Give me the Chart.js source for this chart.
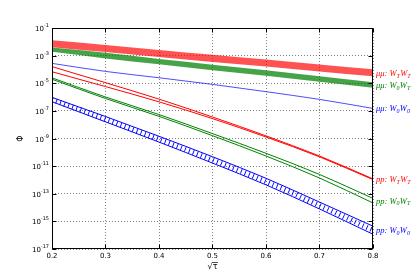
<!DOCTYPE html>
<html>
<head>
<meta charset="utf-8">
<script src="https://cdn.jsdelivr.net/npm/chart.js@4/dist/chart.umd.min.js"></script>
<style>
  body { margin: 0; background: #fff; }
  canvas { display: block; }
</style>
</head>
<body>
<canvas id="chart" width="415" height="277" style="width:415px;height:277px"></canvas>
<script>
// sqrt(tau) sample points
const sqrtTau = [0.2, 0.3, 0.4, 0.5, 0.6, 0.7, 0.8];

// mu mu channels (bands are upper / lower edge)
const muTTHi = [1.3e-2, 6.0e-3, 2.6e-3, 1.17e-3, 5.2e-4, 2.3e-4, 1.02e-4];
const muTTLo = [4.0e-3, 1.8e-3, 7.9e-4, 3.5e-4, 1.6e-4, 7.1e-5, 3.2e-5];
const mu0THi = [3.8e-3, 1.6e-3, 5.6e-4, 2.2e-4, 8.9e-5, 3.2e-5, 1.17e-5];
const mu0TLo = [1.9e-3, 6.3e-4, 2.4e-4, 8.9e-5, 3.5e-5, 1.3e-5, 4.7e-6];
const mu00 = [2.75e-4, 7.2e-5, 2.5e-5, 8.3e-6, 2.45e-6, 6.8e-7, 1.5e-7];

// p p channels
const ppTTHi = [1.6e-4, 1.1e-5, 7.1e-7, 3.6e-8, 1.55e-9, 5.4e-11, 1.19e-12];
const ppTTLo = [6.8e-5, 5.75e-6, 4.5e-7, 2.75e-8, 1.29e-9, 4.7e-11, 1.06e-12];
const pp0THi = [2.45e-5, 1.01e-6, 5.4e-8, 2.26e-9, 8.5e-11, 2.5e-12, 4.6e-14];
const pp0TLo = [1.95e-5, 7.85e-7, 4.0e-8, 1.6e-9, 5.4e-11, 1.38e-12, 2.15e-14];
const pp00Hi = [9.5e-7, 3.9e-8, 1.45e-9, 4.8e-11, 1.32e-12, 2.5e-14, 4.5e-16];
const pp00Lo = [4.6e-7, 1.6e-8, 5.5e-10, 1.66e-11, 4.4e-13, 7.9e-15, 1.17e-16];

// y tick exponents and x ticks
const yExponents = [-17, -15, -13, -11, -9, -7, -5, -3, -1];
const xTicks = [0.2, 0.3, 0.4, 0.5, 0.6, 0.7, 0.8];

// right-hand labels: [prefix, subscripts, colour, upper array, lower array]
const labels = [
  ["μμ: ", ["T", "T"], "#ff0000", muTTHi, muTTLo],
  ["μμ: ", ["0", "T"], "#008000", mu0THi, mu0TLo],
  ["μμ: ", ["0", "0"], "#0000ff", mu00, mu00],
  ["pp: ", ["T", "T"], "#ff0000", ppTTHi, ppTTLo],
  ["pp: ", ["0", "T"], "#008000", pp0THi, pp0TLo],
  ["pp: ", ["0", "0"], "#0000ff", pp00Hi, pp00Lo],
];

const pts = arr => sqrtTau.map((x, i) => ({ x: x, y: arr[i] }));
const pp00Mid = pp00Hi.map((v, i) => Math.sqrt(v * pp00Lo[i]));

const redA = "rgba(255,0,0,0.68)";
const greenA = "rgba(0,128,0,0.72)";
const blueA = "rgba(0,0,255,0.7)";

function line(arr, color, width, extra) {
  return Object.assign({
    data: pts(arr),
    borderColor: color,
    borderWidth: width,
    pointRadius: 0,
    fill: false,
    cubicInterpolationMode: "monotone",
  }, extra || {});
}

const decor = {
  id: "decor",
  afterDraw(chart) {
    const { ctx, chartArea: a, scales } = chart;
    const xs = scales.x, ys = scales.y;
    const L = Math.round(a.left) + 0.5, R = Math.round(a.right) - 0.5;
    const T = Math.round(a.top) + 0.5, B = Math.round(a.bottom) - 0.5;
    ctx.save();
    ctx.strokeStyle = "#000";
    ctx.lineWidth = 1;
    ctx.strokeRect(L, T, R - L, B - T);

    // inward ticks + y labels
    ctx.fillStyle = "#000";
    yExponents.forEach(e => {
      const yy = Math.round(ys.getPixelForValue(Math.pow(10, e))) + 0.5;
      ctx.beginPath();
      ctx.moveTo(L, yy); ctx.lineTo(L + 4, yy);
      ctx.moveTo(R, yy); ctx.lineTo(R - 4, yy);
      ctx.stroke();
      ctx.textAlign = "right";
      ctx.textBaseline = "alphabetic";
      ctx.font = "5px 'DejaVu Sans'";
      const sup = String(e);
      const sw = ctx.measureText(sup).width;
      ctx.fillText(sup, 49, yy - 2);
      ctx.font = "7px 'DejaVu Sans'";
      ctx.fillText("10", 49 - sw, yy + 2.5);
    });
    xTicks.forEach(v => {
      const xx = Math.round(xs.getPixelForValue(v)) + 0.5;
      ctx.beginPath();
      ctx.moveTo(xx, B); ctx.lineTo(xx, B - 4);
      ctx.moveTo(xx, T); ctx.lineTo(xx, T + 4);
      ctx.stroke();
    });

    // axis titles
    const cx = (a.left + a.right) / 2;
    ctx.textAlign = "center";
    ctx.textBaseline = "middle";
    ctx.font = "8px 'DejaVu Sans'";
    ctx.fillText("√τ", cx, 267);
    const w = ctx.measureText("√τ").width, ws = ctx.measureText("√").width;
    ctx.lineWidth = 0.7;
    ctx.beginPath();
    ctx.moveTo(cx - w / 2 + ws - 0.5, 262.5);
    ctx.lineTo(cx + w / 2 + 0.5, 262.5);
    ctx.stroke();
    ctx.save();
    ctx.translate(21, (a.top + a.bottom) / 2);
    ctx.rotate(-Math.PI / 2);
    ctx.fillText("Φ", 0, 0);
    ctx.restore();

    // curve labels on the right
    const last = sqrtTau.length - 1;
    labels.forEach(([pre, subs, color, hi, lo]) => {
      const yy = ys.getPixelForValue(Math.sqrt(hi[last] * lo[last])) + 3;
      let x = a.right + 3;
      ctx.fillStyle = color;
      ctx.textAlign = "left";
      ctx.textBaseline = "alphabetic";
      ctx.font = "italic 8.5px 'Liberation Serif'";
      ctx.fillText(pre, x, yy);
      x += ctx.measureText(pre).width;
      subs.forEach(s => {
        ctx.font = "italic 8.5px 'Liberation Serif'";
        ctx.fillText("W", x, yy);
        x += ctx.measureText("W").width;
        ctx.font = "italic 6px 'Liberation Serif'";
        ctx.fillText(s, x, yy + 1.8);
        x += ctx.measureText(s).width + 0.3;
      });
    });
    ctx.restore();
  }
};

const config = {
  type: "line",
  data: {
    datasets: [
      line(muTTHi, "transparent", 1),
      line(muTTLo, "transparent", 1, { fill: "-1", backgroundColor: redA }),
      line(mu0THi, "transparent", 1),
      line(mu0TLo, "transparent", 1, { fill: "-1", backgroundColor: greenA }),
      line(mu00, blueA, 1),
      line(ppTTHi, "#ff0000", 1),
      line(ppTTLo, "#ff0000", 1),
      line(pp0THi, "#008000", 1),
      line(pp0TLo, "#008000", 1),
      line(pp00Hi, "#0000ff", 1),
      line(pp00Lo, "#0000ff", 1),
      line(pp00Mid, "#0000ff", 5, { borderDash: [0.9, 3.4] }),
    ],
  },
  options: {
    responsive: false,
    devicePixelRatio: 1,
    animation: false,
    layout: { padding: { top: 28, right: 42, left: 0, bottom: 0 } },
    plugins: { legend: { display: false }, tooltip: { enabled: false } },
    scales: {
      x: {
        type: "linear",
        min: 0.2,
        max: 0.8,
        ticks: {
          stepSize: 0.1,
          color: "#000",
          padding: 3,
          maxRotation: 0,
          font: { family: "DejaVu Sans", size: 7 },
          callback: v => v.toFixed(1),
        },
        grid: { color: "rgba(0,0,0,0.5)", drawTicks: false },
        border: { display: false, dash: [1, 2] },
        afterFit: s => { s.height = 28; },
      },
      y: {
        type: "logarithmic",
        min: 1e-17,
        max: 1e-1,
        ticks: { display: false },
        afterBuildTicks: s => { s.ticks = yExponents.map(e => ({ value: Math.pow(10, e) })); },
        grid: { color: "rgba(0,0,0,0.5)", drawTicks: false },
        border: { display: false, dash: [1, 2] },
        afterFit: s => { s.width = 52; },
      },
    },
  },
  plugins: [decor],
};

const myChart = new Chart(document.getElementById("chart"), config);
</script>
</body>
</html>
